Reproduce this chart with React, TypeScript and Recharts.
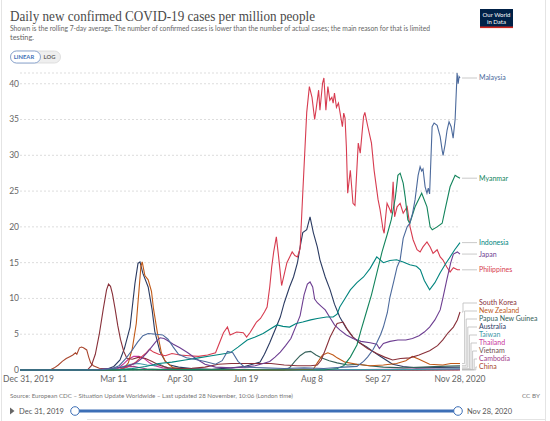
import React from 'react';
import { LineChart, Line, XAxis, YAxis, CartesianGrid, ReferenceLine, ReferenceDot } from 'recharts';

type Pt = [number, number];

// x values are days since Dec 31, 2019
const dayTicks = [0, 71, 121, 171, 221, 271, 333];
const dayTickLabels = ['Dec 31, 2019', 'Mar 11', 'Apr 30', 'Jun 19', 'Aug 8', 'Sep 27', 'Nov 28, 2020'];
const valueTicks = [0, 5, 10, 15, 20, 25, 30, 35, 40];

const countries = ['Malaysia', 'Myanmar', 'Indonesia', 'Japan', 'Philippines', 'South Korea', 'New Zealand', 'Papua New Guinea', 'Australia', 'Taiwan', 'Thailand', 'Vietnam', 'Cambodia', 'China'];
const countryColors = ['#4C6A9C', '#13845C', '#00847E', '#6D3E91', '#D73C50', '#883039', '#C05917', '#35615A', '#2B3B62', '#3F98A8', '#C8379A', '#6E4F4F', '#A33E8A', '#A9462D'];

const malaysia: Pt[] = [[0,0],[55,0],[62,0.05],[70,0.2],[75,0.6],[80,1.6],[85,2.8],[89,3.9],[93,4.8],[97,5.1],[103,5.0],[108,4.9],[112,4.3],[116,3.2],[120,2.2],[126,1.7],[132,1.5],[140,1.2],[148,0.8],[153,1.3],[157,2.6],[161,2.4],[165,1.2],[170,0.4],[185,0.3],[200,0.2],[215,0.3],[230,0.2],[245,0.4],[255,0.5],[260,1.2],[263,1.8],[267,2.8],[270,3.8],[273,5.0],[275,6.0],[278,8.0],[280,10.2],[283,12.5],[285.4,14.4],[287.7,15.4],[290,18.4],[293,20],[295,20.5],[297,21.8],[299,23.8],[301.3,27.2],[302.8,28.4],[304,27.8],[305,28.1],[306.6,25.6],[308,24.7],[309,25.4],[310,24.6],[311.9,34],[313.4,34.5],[315.7,34.2],[318,32.6],[319.5,30.7],[320.2,30],[321.7,31.5],[323.2,33.5],[324.7,34.7],[326.3,34],[327.8,32.4],[329.3,35],[330.8,41.5],[331.6,40],[332.3,41],[333,40.8]];

const myanmar: Pt[] = [[0,0],[80,0],[90,0.05],[100,0.1],[130,0.05],[230,0],[240,0.2],[245,0.6],[250,1.8],[255,3.5],[258,5.5],[262,8],[266,10.5],[270,13.5],[274,16.5],[278,19],[281,21],[284,24],[286,27.2],[287.7,27.5],[290,26.1],[291.5,24.2],[293.5,21],[295,20.5],[299,22.8],[304,24.7],[308,22.8],[310.4,20],[312,19.6],[315.7,20],[319.5,20.5],[321.7,22.4],[325.5,25.6],[329.3,27.2],[331,27],[333,26.8]];

const indonesia: Pt[] = [[0,0],[60,0],[75,0.05],[85,0.2],[95,0.5],[105,0.9],[115,1.1],[125,1.4],[135,1.7],[145,2.0],[159,2.4],[165,3.2],[172,4.2],[178,4.6],[184,5.1],[190,5.8],[194.5,6.3],[199,6.1],[204,6.0],[209,6.5],[214,6.7],[220,7.0],[225,7.2],[232,7.4],[237,7.4],[240,7.8],[242,8.8],[246,10],[250,11.2],[255,12.2],[260,13],[265,14.2],[270,15.8],[275,15],[280,15.3],[285,15.4],[290,15.1],[295,14.7],[300,14.5],[303,14],[306,12.5],[310,11.2],[314,12.2],[318,13.6],[322,14.8],[325.5,15.8],[329,16.8],[333,17.8]];

const japan: Pt[] = [[0,0],[30,0.01],[50,0.05],[60,0.1],[70,0.25],[78,0.4],[84,0.7],[88,1.0],[92,1.6],[96,2.4],[100,3.3],[103,4.0],[106,4.5],[109,4.4],[111,4.2],[116,3.6],[121,3.1],[127,2.4],[133,1.6],[140,0.8],[148,0.4],[160,0.3],[170,0.4],[178,0.6],[184,0.9],[189,1.2],[193,1.8],[197,2.5],[201,3.4],[205,4.4],[209,6.2],[212,7.6],[215,10.5],[217.5,12.0],[219.5,12.3],[221.5,11.6],[223,9.9],[225,9.4],[228,8.9],[231,8.4],[235,7.2],[238,6.3],[242,5.6],[247,4.9],[252,4.4],[258,4.0],[265,3.8],[270,3.6],[272,3.0],[275,3.7],[280,4.0],[286,4.2],[292,4.2],[297,4.4],[302,4.8],[306,5.3],[310,6.0],[314,7.0],[318,8.4],[320,10],[323,12.6],[326,15],[328,16.2],[331,16.5],[333,16.2]];

const philippines: Pt[] = [[0,0],[62,0],[70,0.03],[76,0.15],[82,0.5],[87,1.0],[91,1.7],[95,2.3],[98,2.9],[101,2.5],[105,2.2],[110,2.0],[115,2.3],[121,2.1],[128,2.0],[135,1.9],[142,2.1],[148,2.4],[151,3.8],[154,5.2],[157,6.0],[159,4.9],[164,5.3],[169,5.2],[171.5,4.6],[174,5.2],[179,6.7],[182,7.2],[185,8.1],[187,8.8],[189,11.6],[190.5,14.4],[192,16.5],[194,18.6],[195.5,16.2],[198,11.8],[202,15],[206,16.5],[208,16],[210,15.8],[212,17],[214,24.7],[217,36],[219,39.6],[221,38.1],[223,35],[224,36.3],[226,39.1],[227,36.3],[229,40.1],[230,40.8],[231.5,36.3],[233,39.6],[234.5,37.7],[236,38.1],[237,37.3],[238,38.7],[239.5,36.7],[241,37.3],[244,34],[245,35.9],[246,35.2],[247,31.2],[248,24.7],[250,27.9],[252,23.3],[253.5,23],[256,31.7],[257.5,30.3],[260,35.4],[261,36],[263,34.2],[266,31.7],[268,27.9],[271,23.8],[272.5,22.4],[274.8,19.6],[275.6,19.1],[276.5,21],[277.8,23.3],[280,22.4],[281,21.9],[282.4,26.3],[283.5,21.4],[285.4,22.8],[287.7,23.3],[290,21.9],[293,22.8],[295.2,20],[297.5,18.2],[300.5,16.8],[302.8,16.5],[305,17.2],[308,17.9],[310.4,17.2],[312.6,16.3],[315.7,16.8],[318,15.8],[320,15.4],[323,14.4],[325.5,13.7],[328,14.3],[331,14],[333,14]];

const southKorea: Pt[] = [[0,0],[20,0.01],[45,0.05],[51.5,0.1],[54,0.6],[57,2.2],[60,5],[63,8.5],[65.5,11.2],[67,12],[68.5,11.7],[70,10.6],[72,8.5],[74,6.2],[76,4.3],[78.5,2.6],[81,1.6],[85,1.5],[90,1.8],[95,1.6],[100,1.2],[105,0.7],[112,0.3],[120,0.2],[130,0.25],[140,0.4],[150,0.8],[160,0.9],[170,0.9],[180,0.9],[190,0.9],[200,0.7],[210,0.6],[220,0.6],[225,0.7],[228,1.4],[231,2.8],[234.7,4.6],[238,5.8],[240,6.5],[244.5,6.7],[248,5.6],[252,4.6],[257,3.8],[263,3.0],[270,2.3],[276,1.8],[282,1.4],[288,1.6],[295,1.7],[302,2.1],[310,2.7],[316,3.4],[320,4.2],[324,5.2],[328,6.0],[331,7.0],[333,8.1]];

const newZealand: Pt[] = [[0,0],[75,0],[79,0.3],[82,1],[85,3],[88,6.5],[90,11],[91.5,14.5],[92.5,15.1],[94.5,13.2],[97,12.6],[99.5,11],[101,8.6],[104,5.2],[107,2.4],[110,1.2],[116,0.3],[130,0.08],[160,0.02],[200,0.02],[222,0.1],[225,1.0],[229,2.1],[233,2.4],[237,2.1],[240,1.7],[246,1.1],[255,0.8],[265,0.6],[275,0.7],[285,0.9],[292,1.3],[297,1.9],[302,1.5],[310,0.8],[320,0.7],[326,0.9],[333,0.9]];

const papuaNewGuinea: Pt[] = [[0,0],[200,0],[204,0.3],[208,1.2],[212,2.0],[216,2.5],[220,2.6],[224,2.1],[228,1.7],[234,1.3],[240,1.0],[248,0.7],[256,0.8],[264,0.6],[275,0.4],[290,0.3],[305,0.4],[318,0.5],[333,0.6]];

const australia: Pt[] = [[0,0],[55,0],[62,0.05],[67,0.2],[71,0.5],[75.7,1.4],[79,3],[83.3,6],[87,12.1],[89.3,14.9],[90.8,15.1],[93,13.5],[97,11.6],[100,8.4],[102,5.4],[106,2.5],[110,1.2],[113.5,0.7],[120,0.4],[130,0.2],[145,0.1],[160,0.3],[170,0.5],[176,0.8],[181.7,1.1],[185,2.2],[189,3.8],[193,5.6],[197,7.4],[200,9.4],[204,11.6],[207,13],[210,15],[212,17.2],[214,19.2],[217,19.6],[219.5,21.4],[222,19.2],[225,17.2],[227,15.4],[231,13],[234.7,11.2],[238,9.2],[242,7.4],[247,5.8],[252,4.6],[257,3.8],[262.7,3.2],[267,2.6],[272,2.0],[277,1.4],[282,0.8],[290,0.5],[300,0.3],[315,0.35],[333,0.4]];

const taiwan: Pt[] = [[0,0],[20,0.01],[45,0.05],[65,0.05],[72,0.2],[78,0.5],[84,0.8],[90,0.9],[96,0.7],[102,0.6],[106,0.8],[110,0.4],[118,0.1],[130,0.03],[200,0.02],[260,0.05],[300,0.08],[320,0.12],[333,0.16]];

const thailand: Pt[] = [[0,0],[10,0.01],[40,0.02],[65,0.03],[74,0.2],[78,0.8],[82,1.5],[86,1.9],[90,1.9],[94,1.6],[98,1.0],[102,0.6],[108,0.3],[115,0.15],[125,0.08],[140,0.04],[200,0.05],[260,0.08],[300,0.12],[333,0.12]];

const vietnam: Pt[] = [[0,0],[70,0.01],[80,0.08],[88,0.1],[95,0.04],[110,0.01],[205,0.01],[210,0.06],[215,0.09],[222,0.06],[235,0.02],[300,0.01],[333,0.06]];

const cambodia: Pt[] = [[0,0],[72,0],[78,0.2],[82,0.45],[86,0.5],[90,0.35],[96,0.15],[105,0.05],[120,0.01],[160,0.02],[170,0.1],[178,0.03],[250,0.02],[320,0.05],[333,0.04]];

const china: Pt[] = [[0,0],[20,0],[23,0.05],[26,0.3],[29,0.7],[32,1.2],[35,1.6],[38,1.9],[40,2.1],[42,2.4],[43,2.2],[45,3.1],[46.5,3.2],[48,3.1],[50.5,2.8],[52,1.8],[53.5,1.0],[55.5,0.6],[60,0.25],[70,0.08],[90,0.04],[120,0.02],[333,0.015]];

const seriesValues: Pt[][] = [malaysia, myanmar, indonesia, japan, philippines, southKorea, newZealand, papuaNewGuinea, australia, taiwan, thailand, vietnam, cambodia, china];

// ---- layout constants (style) ----
const W = 550;
const H = 421;
const LAST_DAY = 333;
const Y_MAX = 41.5;
const PLOT_W = 440;
const PLOT_H = 297;
const DAYS_PER_PX = LAST_DAY / PLOT_W;
const UNITS_PER_PX = Y_MAX / PLOT_H;
const LABEL_GAP = 8 * UNITS_PER_PX;
const LABEL_FLOOR = 3 * UNITS_PER_PX;

const series = countries.map((name, i) => ({
  name,
  color: countryColors[i],
  data: seriesValues[i].map(([d, v]) => ({ d, v })),
  last: seriesValues[i][seriesValues[i].length - 1][1],
}));

const ordered = [...series].sort((a, b) => b.last - a.last);
const pos = ordered.map((s) => s.last);
for (let i = 1; i < pos.length; i++) pos[i] = Math.min(pos[i], pos[i - 1] - LABEL_GAP);
pos[pos.length - 1] = Math.max(pos[pos.length - 1], LABEL_FLOOR);
for (let i = pos.length - 2; i >= 0; i--) pos[i] = Math.max(pos[i], pos[i + 1] + LABEL_GAP);
let movedIdx = 0;
const labels = ordered.map((s, i) => {
  const moved = Math.abs(pos[i] - s.last) > 0.3;
  const vxPx = moved ? 3 + (movedIdx++) * 1.6 : 10;
  return { ...s, pos: pos[i], vx: LAST_DAY + vxPx * DAYS_PER_PX };
});

const FONT = 'Lato, "Noto Sans", sans-serif';

const XTick = (p: any) => {
  const idx = dayTicks.indexOf(p.payload.value);
  const first = idx === 0;
  return (
    <text x={first ? p.x - 17 : p.x} y={p.y + 12} textAnchor={first ? 'start' : 'middle'} fontSize={8.5} fill="#666" fontFamily={FONT}>
      {dayTickLabels[idx]}
    </text>
  );
};

const YTick = (p: any) => (
  <text x={p.x} y={p.y} dy="0.35em" textAnchor="end" fontSize={8.5} fill="#666" fontFamily={FONT}>
    {p.payload.value}
  </text>
);

const Header = () => (
  <svg width={W} height={H} style={{ position: 'absolute', left: 0, top: 0 }}>
    <rect x={0} y={0} width={W} height={H} fill="#fff" />
    <line x1={1.5} y1={0} x2={1.5} y2={H} stroke="#e4e4e4" />
    <line x1={545.5} y1={0} x2={545.5} y2={H} stroke="#e4e4e4" />
    <text x={10} y={21} fontFamily='"Liberation Serif", "DejaVu Serif", serif' fontSize={15} fill="#4a4a4a" textLength={305} lengthAdjust="spacingAndGlyphs">
      Daily new confirmed COVID-19 cases per million people
    </text>
    <text x={10} y={30.5} fontFamily={FONT} fontSize={7.4} fill="#666" textLength={420} lengthAdjust="spacingAndGlyphs">
      Shown is the rolling 7-day average. The number of confirmed cases is lower than the number of actual cases; the main reason for that is limited
    </text>
    <text x={10} y={39.5} fontFamily={FONT} fontSize={7.4} fill="#666">testing.</text>
    <rect x={10.5} y={51} width={50} height={12} rx={6} fill="#efefef" stroke="#d8d8d8" strokeWidth={0.8} />
    <rect x={10.5} y={51} width={30} height={12} rx={6} fill="#fff" stroke="#7f9ccb" strokeWidth={0.9} />
    <text x={24} y={59.3} textAnchor="middle" fontFamily={FONT} fontSize={5.8} fontWeight={700} fill="#3d6fb6">LINEAR</text>
    <text x={49.5} y={59.3} textAnchor="middle" fontFamily={FONT} fontSize={5.8} fontWeight={700} fill="#666">LOG</text>
    <rect x={480} y={9} width={33} height={19} fill="#002147" />
    <rect x={480} y={26.5} width={33} height={1.6} fill="#ce261e" />
    <text x={496.5} y={16.5} textAnchor="middle" fontFamily={FONT} fontSize={6} fill="#fff">Our World</text>
    <text x={496.5} y={23.5} textAnchor="middle" fontFamily={FONT} fontSize={6} fill="#fff">in Data</text>
    <text x={10} y={398} fontFamily={FONT} fontSize={6.4} fill="#777" textLength={283} lengthAdjust="spacingAndGlyphs">
      Source: European CDC – Situation Update Worldwide – Last updated 28 November, 10:06 (London time)
    </text>
    <text x={540} y={398} textAnchor="end" fontFamily={FONT} fontSize={6.4} fill="#777">CC BY</text>
    <path d="M10,407.5 L14.5,411 L10,414.5 Z" fill="#666" />
    <text x={19} y={414} fontFamily={FONT} fontSize={8.4} fill="#555" textLength={45} lengthAdjust="spacingAndGlyphs">Dec 31, 2019</text>
    <line x1={75} y1={411} x2={458} y2={411} stroke="#3d6fb6" strokeWidth={3.2} />
    <circle cx={75} cy={411} r={4.3} fill="#fff" stroke="#3d6fb6" strokeWidth={1} />
    <circle cx={458} cy={411} r={4.3} fill="#fff" stroke="#3d6fb6" strokeWidth={1} />
    <text x={467} y={414} fontFamily={FONT} fontSize={8.4} fill="#555" textLength={45} lengthAdjust="spacingAndGlyphs">Nov 28, 2020</text>
    <line x1={87} y1={419.5} x2={546} y2={419.5} stroke="#e4e4e4" />
  </svg>
);

export default function App() {
  return (
    <div style={{ position: 'absolute', left: 0, top: 0, width: W, height: H, overflow: 'hidden', background: '#fff' }}>
      <Header />
      <div style={{ position: 'absolute', left: 0, top: 0 }}>
        <LineChart width={W} height={H} margin={{ top: 73, right: 90, bottom: 31, left: 0 }}>
          <CartesianGrid vertical={false} stroke="#ddd" strokeDasharray="2 2" />
          <XAxis
            type="number"
            dataKey="d"
            domain={[0, LAST_DAY]}
            ticks={dayTicks}
            tick={<XTick />}
            tickLine={false}
            axisLine={false}
            tickSize={0}
            tickMargin={0}
            height={20}
            interval={0}
          />
          <YAxis
            type="number"
            domain={[0, Y_MAX]}
            ticks={valueTicks}
            tick={<YTick />}
            tickLine={false}
            axisLine={false}
            tickSize={0}
            tickMargin={1}
            width={20}
            interval={0}
          />
          {[...series].reverse().map((s) => (
            <Line
              key={s.name}
              data={s.data}
              dataKey="v"
              name={s.name}
              type="linear"
              stroke={s.color}
              strokeWidth={1.1}
              dot={false}
              activeDot={false}
              isAnimationActive={false}
            />
          ))}
          {labels.map((s) => (
            <ReferenceLine
              key={s.name + '-a'}
              segment={[{ x: LAST_DAY + 2 * DAYS_PER_PX, y: s.last }, { x: s.vx, y: s.last }]}
              stroke="#bbb"
              strokeWidth={0.8}
              ifOverflow="visible"
            />
          ))}
          {labels.map((s) => (
            <ReferenceLine
              key={s.name + '-b'}
              segment={[{ x: s.vx, y: s.last }, { x: s.vx, y: s.pos }]}
              stroke="#bbb"
              strokeWidth={0.8}
              ifOverflow="visible"
            />
          ))}
          {labels.map((s) => (
            <ReferenceLine
              key={s.name + '-c'}
              segment={[{ x: s.vx, y: s.pos }, { x: LAST_DAY + 17 * DAYS_PER_PX, y: s.pos }]}
              stroke="#bbb"
              strokeWidth={0.8}
              ifOverflow="visible"
            />
          ))}
          {labels.map((s) => (
            <ReferenceDot
              key={s.name + '-t'}
              x={LAST_DAY + 19 * DAYS_PER_PX}
              y={s.pos}
              ifOverflow="visible"
              shape={(p: any) => (
                <text x={p.cx} y={p.cy} dy="0.35em" fontSize={7} fill={s.color} fontFamily={FONT}>
                  {s.name}
                </text>
              )}
            />
          ))}
        </LineChart>
      </div>
    </div>
  );
}
